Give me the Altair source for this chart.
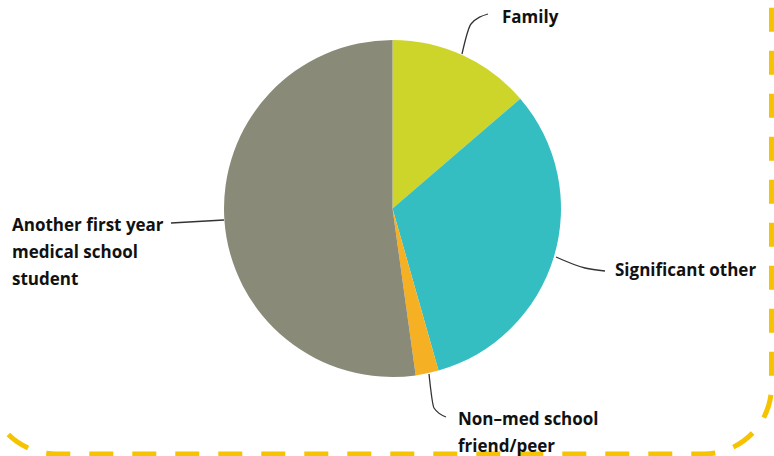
import altair as alt
import pandas as pd

categories = ["Family", "Significant other", "Non-med school friend/peer",
              "Another first year medical school student"]
shares = [13.7, 31.9, 2.2, 52.2]
colors = ["#CDD52B", "#34BEC1", "#F6B023", "#8A8A78"]
label_lines = ["Family", "Significant other", "Non–med school\nfriend/peer",
               "Another first year\nmedical school\nstudent"]

W, H = 774, 456
CX, CY, R = 392.5, 208.5, 168.5
FONT = "Open Sans"

df = pd.DataFrame({"category": categories, "share": shares,
                   "order": list(range(len(categories)))})

pie = alt.Chart(df).mark_arc(radius=R, stroke=None).encode(
    theta=alt.Theta("share:Q", stack=True),
    order=alt.Order("order:Q"),
    color=alt.Color("category:N", scale=alt.Scale(domain=categories, range=colors), legend=None),
    x=alt.value(CX), y=alt.value(CY),
)

# leader lines (pixel paths)
leaders = pd.DataFrame({
    "id": [0]*3 + [1]*3 + [2]*3 + [3]*2,
    "k": [0, 1, 2, 0, 1, 2, 0, 1, 2, 0, 1],
    "px": [462, 471, 488, 556, 585, 605, 429, 434, 446, 171, 224],
    "py": [54, 24, 14, 257, 268, 271, 374, 408, 417, 223, 220],
})
lines = alt.Chart(leaders).mark_line(color="#333333", strokeWidth=1.3, interpolate="monotone").encode(
    x=alt.X("px:Q", scale=None), y=alt.Y("py:Q", scale=None),
    detail="id:N", order="k:Q",
)

label_pos = [(502, 18), (615, 271), (458, 420), (12, 226)]
texts = []
for lab, (lx, ly) in zip(label_lines, label_pos):
    t = alt.Chart(pd.DataFrame({"label": [lab]})).mark_text(
        font=FONT, fontSize=17, fontWeight="bold", color="#111111",
        align="left", baseline="middle", lineBreak="\n", lineHeight=27,
    ).encode(text="label:N", x=alt.value(lx), y=alt.value(ly))
    texts.append(t)

border = alt.Chart(pd.DataFrame({"a": [0]})).mark_rect(
    fill=None, stroke="#F5C300", strokeWidth=5, strokeDash=[24, 19],
    cornerRadius=68,
).encode(x=alt.value(-12), x2=alt.value(771.5), y=alt.value(-80), y2=alt.value(454))

chart = alt.layer(border, pie, lines, *texts).properties(
    width=W, height=H, padding=0, autosize=alt.AutoSizeParams(type="none")
).configure_view(stroke=None)

chart.save("out.html", embed_options={"renderer": "svg", "actions": False})
